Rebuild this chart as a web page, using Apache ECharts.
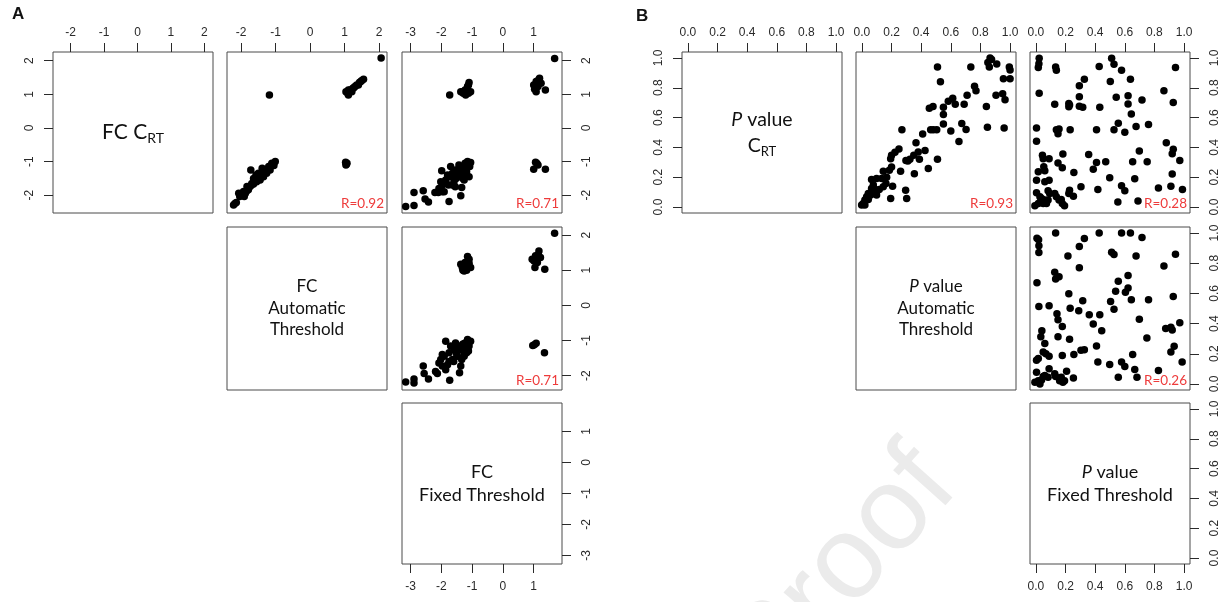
<!DOCTYPE html>
<html>
<head>
<meta charset="utf-8">
<script src="https://cdn.jsdelivr.net/npm/echarts@6/dist/echarts.min.js"></script>
<style>html,body{margin:0;padding:0;background:#fff}#c{width:1224px;height:602px}</style>
</head>
<body>
<div id="c"></div>
<script>
// ---------- tick labels ----------
const fcTicks = [-2, -1, 0, 1, 2];
const fcFixedTicks = [-3, -2, -1, 0, 1];
const pTicks = [0, 0.2, 0.4, 0.6, 0.8, 1.0];

// ---------- axis limits (data range + 4%) ----------
const fcCrtRange = [-2.53, 2.26];
const fcAutoRange = [-2.41, 2.23];
const fcFixedRange = [-3.28, 1.92];
const pRange = [-0.04, 1.04];

// ---------- correlations ----------
const rLabels = ['R=0.92', 'R=0.71', 'R=0.71', 'R=0.93', 'R=0.28', 'R=0.26'];

// ---------- Panel A : fold change ----------
// x = FC Automatic, y = FC C_RT
const fcAutoVsCrt = [
  [2.06,2.08],[-1.18,0.98],
  [1.04,1.08],[1.11,0.98],[1.16,1.13],[1.24,1.18],[1.3,1.23],[1.35,1.28],[1.43,1.35],[1.5,1.41],[1.55,1.45],[1.21,1.08],[1.11,1.13],[1.4,1.28],[1.08,1.05],[1.27,1.2],[1.47,1.38],
  [1.03,-1.02],[1.05,-1.08],[1.07,-1.05],[1.04,-1.1],
  [-2.22,-2.29],[-2.14,-2.22],[-2.18,-2.25],[-2.07,-1.94],[-1.98,-1.99],[-1.91,-2.04],[-1.85,-1.89],[-1.79,-1.84],[-1.74,-1.74],[-1.69,-1.65],[-1.64,-1.67],[-1.59,-1.55],[-1.55,-1.6],[-1.53,-1.47],[-1.47,-1.5],[-1.43,-1.4],[-1.37,-1.35],[-1.35,-1.45],[-1.3,-1.3],[-1.26,-1.25],[-1.39,-1.2],[-1.21,-1.2],[-1.16,-1.13],[-1.11,-1.05],[-1.06,-1.07],[-1.01,-1.0],[-1.72,-1.25],[-1.83,-1.74],[-1.64,-1.5],[-1.5,-1.35],[-2.04,-2.04],[-1.93,-1.89],[-1.57,-1.4],[-1.26,-1.35],[-1.16,-1.25],[-1.45,-1.55],[-1.88,-1.95],[-1.7,-1.7],[-1.6,-1.6],[-1.4,-1.45],[-1.2,-1.15],[-1.05,-1.12]
];
// x = FC Fixed, y = FC C_RT
const fcFixedVsCrt = [
  [1.68,2.07],
  [-1.73,0.98],[-1.37,1.08],[-1.29,1.03],[-1.21,0.98],[-1.12,1.03],[-1.05,1.08],[-1.15,1.23],[-1.1,1.35],[-1.23,1.13],[-1.18,1.05],[-1.3,1.08],[-1.12,1.28],
  [1.0,1.28],[1.08,1.38],[1.19,1.48],[1.14,1.23],[1.03,1.15],[1.24,1.33],[1.38,1.13],[1.08,1.08],[1.15,1.42],[1.05,1.2],[1.12,1.3],
  [1.06,-1.02],[1.14,-1.1],[1.0,-1.23],[1.38,-1.23],[1.1,-1.05],
  [-3.16,-2.34],[-2.89,-2.31],[-2.89,-1.92],[-2.59,-1.87],[-2.53,-2.11],[-2.42,-2.2],[-2.21,-1.92],[-2.1,-1.92],[-2.08,-1.8],[-2.02,-1.6],[-1.97,-1.7],[-1.91,-1.9],[-1.86,-1.55],[-1.99,-1.27],[-1.77,-1.7],[-1.73,-1.45],[-1.7,-1.15],[-1.64,-1.35],[-1.75,-2.19],[-1.59,-1.6],[-1.54,-1.25],[-1.48,-1.45],[-1.43,-1.1],[-1.37,-1.35],[-1.37,-2.02],[-1.34,-1.77],[-1.32,-1.2],[-1.26,-1.55],[-1.23,-1.05],[-1.18,-1.3],[-1.15,-1.0],[-1.1,-1.45],[-1.08,-1.15],[-1.05,-1.03],[-1.97,-1.9],[-1.64,-1.7],[-1.8,-1.4],[-1.48,-1.3],[-1.26,-1.35],[-1.52,-1.5],[-1.4,-1.2],[-1.2,-1.2],[-1.6,-1.45],[-1.85,-1.65],[-1.12,-1.1],[-1.3,-1.5],[-1.55,-1.75]
];
// x = FC Fixed, y = FC Automatic
const fcFixedVsAuto = [
  [1.68,2.05],
  [-1.37,1.17],[-1.32,1.08],[-1.26,0.98],[-1.21,1.03],[-1.15,1.12],[-1.1,1.31],[-1.15,1.39],[-1.05,1.08],[-1.23,1.22],[-1.3,1.0],[-1.18,1.0],[-1.1,1.2],
  [0.95,1.31],[1.06,1.41],[1.17,1.55],[1.12,1.22],[1.04,1.08],[1.22,1.36],[1.36,1.03],[1.01,1.26],[1.15,1.45],[1.08,1.3],
  [0.97,-1.14],[1.08,-1.08],[1.35,-1.35],[1.02,-1.12],
  [-3.16,-2.18],[-2.89,-2.1],[-2.89,-2.21],[-2.59,-1.73],[-2.56,-1.94],[-2.42,-2.1],[-2.19,-1.88],[-2.13,-1.94],[-2.08,-1.64],[-2.02,-1.54],[-1.97,-1.73],[-1.91,-1.45],[-1.86,-1.02],[-1.8,-1.69],[-1.75,-1.35],[-1.73,-2.13],[-1.7,-1.16],[-1.64,-1.54],[-1.59,-1.26],[-1.54,-1.07],[-1.48,-1.45],[-1.43,-1.16],[-1.41,-1.92],[-1.37,-1.73],[-1.34,-1.54],[-1.29,-1.3],[-1.23,-1.07],[-1.18,-1.35],[-1.15,-0.97],[-1.1,-1.16],[-1.05,-1.02],[-1.97,-1.4],[-1.86,-1.83],[-1.54,-1.3],[-1.26,-1.45],[-1.6,-1.6],[-1.4,-1.25],[-1.2,-1.2],[-1.75,-1.6],[-1.5,-1.4],[-1.3,-1.1],[-1.12,-1.3]
];

// ---------- Panel B : P values ----------
// x = P Automatic, y = P C_RT
const pAutoVsCrt = [
  [0.865,1.0],[0.875,0.99],[0.85,0.97],[0.86,0.94],[0.91,0.96],[0.995,0.94],[1.0,0.92],[0.955,0.86],[1.0,0.86],[0.735,0.94],[0.51,0.94],[0.53,0.84],[0.76,0.81],[0.77,0.78],[0.905,0.75],[0.95,0.76],[0.966,0.72],[0.84,0.675],[0.71,0.75],[0.69,0.69],[0.613,0.73],[0.583,0.71],[0.63,0.69],[0.55,0.67],[0.48,0.675],[0.455,0.663],[0.55,0.62],[0.55,0.557],[0.674,0.56],[0.703,0.52],[0.6,0.51],[0.655,0.44],[0.847,0.535],[0.96,0.53],[0.464,0.518],[0.482,0.518],[0.505,0.518],[0.41,0.49],[0.27,0.518],[0.365,0.431],[0.426,0.38],[0.38,0.37],[0.388,0.32],[0.35,0.347],[0.324,0.32],[0.31,0.309],[0.297,0.313],[0.51,0.32],[0.448,0.258],[0.354,0.224],[0.25,0.39],[0.223,0.368],[0.2,0.347],[0.194,0.324],[0.2,0.269],[0.185,0.247],[0.261,0.24],[0.144,0.24],[0.167,0.2],[0.133,0.191],[0.099,0.191],[0.065,0.184],[0.207,0.14],[0.162,0.158],[0.144,0.136],[0.117,0.118],[0.088,0.118],[0.077,0.147],[0.065,0.125],[0.295,0.113],[0.302,0.058],[0.194,0.058],[0.043,0.091],[0.032,0.069],[0.02,0.047],[0.009,0.024],[-0.002,0.013],[0.02,0.013],[0.043,0.051],[0.059,0.08],[0.099,0.08]
];
// x = P Fixed, y = P C_RT
const pFixedVsCrt = [
  [0.022,0.998],[0.02,0.962],[0.016,0.936],[0.022,0.764],[0.133,0.94],[0.138,0.918],[0.127,0.69],[0.222,0.695],[0.222,0.673],[0.227,0.684],[0.293,0.74],[0.293,0.813],[0.327,0.858],[0.293,0.676],[0.316,0.669],[0.427,0.942],[0.431,0.669],[0.511,0.998],[0.527,0.958],[0.502,0.842],[0.578,0.918],[0.542,0.736],[0.638,0.858],[0.622,0.747],[0.622,0.691],[0.644,0.624],[0.716,0.718],[0.864,0.78],[0.942,0.936],[0.927,0.702],
  [0.004,0.53],[0.004,0.442],[0.138,0.518],[0.149,0.491],[0.156,0.524],[0.231,0.518],[0.409,0.518],[0.527,0.518],[0.556,0.562],[0.6,0.502],[0.676,0.54],[0.76,0.553],[0.88,0.431],[0.927,0.387],[0.92,0.358],[0.971,0.313],[0.92,0.222],[0.911,0.14],[0.989,0.118],[0.827,0.127],[0.698,0.376],[0.653,0.304],[0.751,0.304],[0.667,0.189],[0.689,0.04],[0.553,0.033],[0.578,0.142],[0.6,0.109],[0.498,0.196],[0.471,0.304],[0.409,0.298],[0.387,0.253],[0.356,0.353],[0.418,0.118],[0.304,0.136],[0.256,0.231],[0.182,0.356],[0.149,0.296],[0.178,0.264],[0.089,0.324],[0.044,0.347],[0.049,0.324],[0.053,0.271],[0.06,0.244],[0.016,0.236],[0.004,0.18],[0.06,0.169],[0.089,0.18],[0.004,0.096],[0.082,0.109],[0.093,0.091],[0.127,0.091],[0.138,0.069],[0.222,0.091],[0.227,0.113],[0.253,0.073],[0.156,0.047],[0.178,0.024],[0.171,0.051],[0.193,0.009],
  [-0.007,0.009],[0.016,0.024],[0.031,0.036],[0.049,0.024],[0.038,0.058],[0.06,0.047],[0.071,0.024],[0.082,0.047],[0.027,0.069]
];
// x = P Fixed, y = P Automatic
const pFixedVsAuto = [
  [0.007,0.966],[0.018,0.955],[0.02,0.915],[0.02,0.871],[0.007,0.67],[0.133,1.0],[0.127,0.741],[0.133,0.696],[0.156,0.71],[0.216,0.848],[0.293,0.911],[0.327,0.964],[0.293,0.77],[0.427,1.0],[0.578,1.0],[0.638,1.0],[0.716,0.97],[0.511,0.873],[0.527,0.857],[0.676,0.848],[0.864,0.781],[0.942,0.86],[0.556,0.681],[0.622,0.719],[0.622,0.636],[0.604,0.607],[0.538,0.614],[0.504,0.547],[0.527,0.495],[0.644,0.558],[0.76,0.558],[0.927,0.58],
  [0.222,0.598],[0.316,0.551],[0.231,0.502],[0.289,0.485],[0.089,0.518],[0.02,0.514],[0.142,0.465],[0.149,0.425],[0.178,0.38],[0.36,0.458],[0.431,0.458],[0.387,0.397],[0.444,0.353],[0.698,0.429],[0.556,0.044],[0.682,0.044],[0.876,0.368],[0.911,0.375],[0.92,0.357],[0.971,0.406],[0.933,0.25],[0.911,0.212],[0.987,0.145],[0.827,0.089],[0.749,0.304],[0.653,0.196],[0.667,0.096],[0.578,0.145],[0.6,0.116],[0.498,0.129],[0.418,0.145],[0.409,0.251],[0.327,0.227],[0.304,0.223],[0.256,0.196],[0.227,0.296],[0.149,0.312],[0.178,0.189],
  [0.04,0.353],[0.033,0.312],[0.06,0.268],[0.049,0.212],[0.067,0.2],[0.089,0.183],[0.004,0.157],[0.016,0.168],[0.004,0.078],[0.089,0.1],[0.06,0.056],[0.082,0.045],[0.127,0.067],[0.133,0.049],[0.171,0.045],[0.16,0.022],[0.182,0.011],[0.207,0.085],[0.193,0.022],[0.253,0.04],[-0.007,0.011],[0.016,0.022],[0.027,0.0],[0.038,0.027],[0.049,0.049]
];

// ---------- layout ----------
const COLS_A = [53, 227, 402];
const COLS_B = [682, 856, 1030];
const ROWS = [[52, 161], [227, 163], [403, 161]];
const BOX_W = 160;

const fmtInt = v => String(Math.round(v));
const fmtP = v => v.toFixed(1);

// panels: [panelCols, col, row, xRange, yRange, xTicks, yTicks, xPos, yPos, data, fmt]
const panels = [
  // A
  [COLS_A, 0, 0, fcCrtRange, fcCrtRange, fcTicks, fcTicks, 'top', 'left', null, fmtInt],
  [COLS_A, 1, 0, fcAutoRange, fcCrtRange, fcTicks, fcTicks, 'top', null, fcAutoVsCrt, fmtInt],
  [COLS_A, 2, 0, fcFixedRange, fcCrtRange, fcFixedTicks, fcTicks, 'top', 'right', fcFixedVsCrt, fmtInt],
  [COLS_A, 1, 1, fcAutoRange, fcAutoRange, fcTicks, fcTicks, null, null, null, fmtInt],
  [COLS_A, 2, 1, fcFixedRange, fcAutoRange, fcFixedTicks, fcTicks, null, 'right', fcFixedVsAuto, fmtInt],
  [COLS_A, 2, 2, fcFixedRange, fcFixedRange, fcFixedTicks, fcFixedTicks, 'bottom', 'right', null, fmtInt],
  // B
  [COLS_B, 0, 0, pRange, pRange, pTicks, pTicks, 'top', 'left', null, fmtP],
  [COLS_B, 1, 0, pRange, pRange, pTicks, pTicks, 'top', null, pAutoVsCrt, fmtP],
  [COLS_B, 2, 0, pRange, pRange, pTicks, pTicks, 'top', 'right', pFixedVsCrt, fmtP],
  [COLS_B, 1, 1, pRange, pRange, pTicks, pTicks, null, null, null, fmtP],
  [COLS_B, 2, 1, pRange, pRange, pTicks, pTicks, null, 'right', pFixedVsAuto, fmtP],
  [COLS_B, 2, 2, pRange, pRange, pTicks, pTicks, 'bottom', 'right', null, fmtP]
];

const AXIS_FONT = 'Liberation Sans';
const AXIS_COLOR = '#2a2a2a';
const MARGINS = { top: 13.5, bottom: 17, left: 17, right: 19 };

function makeAxis(range, ticks, pos, gi, isY, fmt) {
  const shown = !!pos;
  return {
    type: 'value', gridIndex: gi, min: range[0], max: range[1],
    position: pos || (isY ? 'left' : 'bottom'),
    axisLine: { show: false, onZero: false },
    splitLine: { show: false },
    axisTick: { show: shown, length: 9, inside: false, customValues: ticks,
      lineStyle: { color: AXIS_COLOR, width: 1 } },
    axisLabel: { show: shown, customValues: ticks, formatter: fmt,
      margin: shown ? MARGINS[pos] : 8, rotate: isY ? 90 : 0, hideOverlap: false,
      fontFamily: AXIS_FONT, fontSize: 12, color: AXIS_COLOR }
  };
}

const grids = [], xAxes = [], yAxes = [], series = [], graphics = [];
let rIdx = 0;
panels.forEach((p, i) => {
  const [cols, c, r, xr, yr, xt, yt, xp, yp, data, fmt] = p;
  const left = cols[c], top = ROWS[r][0], h = ROWS[r][1];
  grids.push({ left: left, top: top, width: BOX_W, height: h, show: true,
    borderColor: '#4a4a4a', borderWidth: 1, backgroundColor: 'transparent',
    containLabel: false, outerBoundsMode: 'none' });
  xAxes.push(makeAxis(xr, xt, xp, i, false, fmt));
  yAxes.push(makeAxis(yr, yt, yp, i, true, fmt));
  if (data) {
    series.push({ type: 'scatter', xAxisIndex: i, yAxisIndex: i, data: data,
      symbol: 'circle', symbolSize: 7.5, itemStyle: { color: '#000', opacity: 1 },
      silent: true, animation: false });
    graphics.push({ type: 'text', x: left + BOX_W - 3, y: top + h - 2, z: 10,
      style: { text: rLabels[rIdx++], fill: '#ee3b3b', fontFamily: 'Lato', fontSize: 13.5,
        align: 'right', textAlign: 'right', verticalAlign: 'bottom', textVerticalAlign: 'bottom' } });
  }
});

// diagonal titles
function diagText(cols, c, r, text, rich) {
  const left = cols[c], top = ROWS[r][0], h = ROWS[r][1];
  graphics.push({ type: 'text', x: left + BOX_W / 2, y: top + h / 2, z: 10,
    style: { text: text, rich: rich, fill: '#111', fontFamily: 'Lato',
      align: 'center', textAlign: 'center', verticalAlign: 'middle', textVerticalAlign: 'middle' } });
}
const richBase = {
  big: { fontFamily: 'Lato', fontSize: 21, lineHeight: 26, fill: '#111' },
  bsub: { fontFamily: 'Lato', fontSize: 14, lineHeight: 16, verticalAlign: 'bottom', fill: '#111' },
  m: { fontFamily: 'Lato', fontSize: 17, lineHeight: 21.5, fill: '#111' },
  mi: { fontFamily: 'Lato', fontSize: 17, lineHeight: 21.5, fontStyle: 'italic', fill: '#111' },
  f: { fontFamily: 'Lato', fontSize: 18, lineHeight: 23, fill: '#111' },
  fi: { fontFamily: 'Lato', fontSize: 18, lineHeight: 23, fontStyle: 'italic', fill: '#111' },
  p: { fontFamily: 'Lato', fontSize: 19.5, lineHeight: 26, fill: '#111' },
  pi: { fontFamily: 'Lato', fontSize: 19.5, lineHeight: 26, fontStyle: 'italic', fill: '#111' },
  psub: { fontFamily: 'Lato', fontSize: 13, lineHeight: 16, verticalAlign: 'bottom', fill: '#111' }
};
diagText(COLS_A, 0, 0, '{big|FC C}{bsub|RT}', richBase);
diagText(COLS_A, 1, 1, '{m|FC}\n{m|Automatic}\n{m|Threshold}', richBase);
diagText(COLS_A, 2, 2, '{f|FC}\n{f|Fixed Threshold}', richBase);
diagText(COLS_B, 0, 0, '{pi|P}{p| value}\n{p|C}{psub|RT}', richBase);
diagText(COLS_B, 1, 1, '{mi|P}{m| value}\n{m|Automatic}\n{m|Threshold}', richBase);
diagText(COLS_B, 2, 2, '{fi|P}{f| value}\n{f|Fixed Threshold}', richBase);

// panel letters
graphics.push({ type: 'text', x: 12, y: 6, style: { text: 'A', fontFamily: 'Liberation Sans',
  fontWeight: 'bold', fontSize: 17, fill: '#111', align: 'left', verticalAlign: 'top' } });
graphics.push({ type: 'text', x: 636, y: 8, style: { text: 'B', fontFamily: 'Liberation Sans',
  fontWeight: 'bold', fontSize: 17, fill: '#111', align: 'left', verticalAlign: 'top' } });

// watermark
graphics.push({ type: 'text', x: 842, y: 572, rotation: 0.84, z: -10,
  style: { text: 'Proof', fontFamily: 'Liberation Sans', fontSize: 118, fill: '#ebebeb',
    align: 'center', textAlign: 'center', verticalAlign: 'middle', textVerticalAlign: 'middle' } });

const chart = echarts.init(document.getElementById('c'), null, { renderer: 'canvas' });
chart.setOption({
  animation: false,
  backgroundColor: '#fff',
  grid: grids,
  xAxis: xAxes,
  yAxis: yAxes,
  series: series,
  graphic: graphics
});
</script>
</body>
</html>
